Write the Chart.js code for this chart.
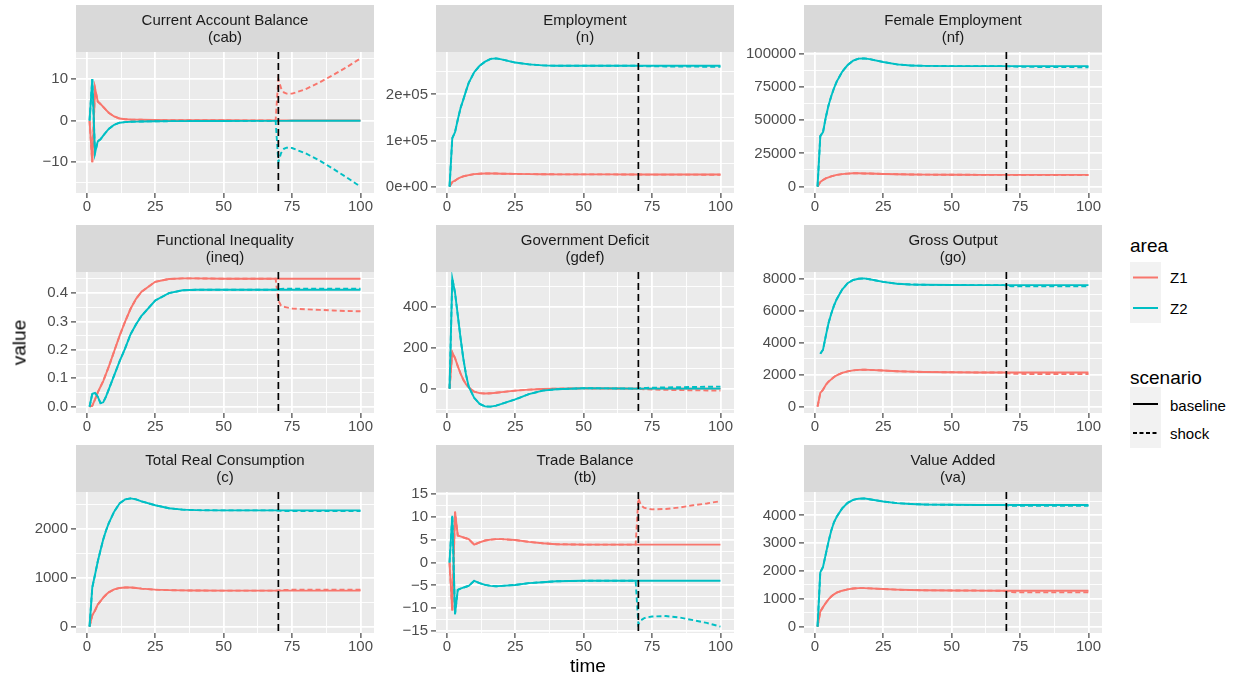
<!DOCTYPE html>
<html>
<head>
<meta charset="utf-8">
<script src="https://cdn.jsdelivr.net/npm/chart.js@4.4.1/dist/chart.umd.min.js"></script>
<style>
  body { margin: 0; background: #fff; width: 1237px; height: 679px; position: relative; overflow: hidden;
         font-family: "Liberation Sans", Arial, sans-serif; }
  canvas.panel { position: absolute; }
  .txt { position: absolute; white-space: nowrap; line-height: 1; }
  .axis-title { font-size: 19px; color: #000; }
  .leg-title { font-size: 19px; color: #000; }
  .leg-label { font-size: 15px; color: #000; }
  .key-bg { position: absolute; background: #F2F2F2; }
</style>
</head>
<body>
<div id="wrap"></div>
<div class="txt axis-title" style="left:-6px; top:333px; width:50px; text-align:center; transform:rotate(-90deg);">value</div>
<div class="txt axis-title" style="left:538px; top:656px; width:100px; text-align:center;">time</div>

<div class="txt leg-title" style="left:1130px; top:236px;">area</div>
<div class="key-bg" style="left:1130px; top:262px; width:31px; height:61px;"></div>
<div class="txt leg-label" style="left:1170px; top:270px;">Z1</div>
<div class="txt leg-label" style="left:1170px; top:301px;">Z2</div>

<div class="txt leg-title" style="left:1130px; top:368px;">scenario</div>
<div class="key-bg" style="left:1130px; top:387px; width:31px; height:61px;"></div>
<div class="txt leg-label" style="left:1170px; top:398px;">baseline</div>
<div class="txt leg-label" style="left:1170px; top:426px;">shock</div>

<svg style="position:absolute; left:0; top:0;" width="1237" height="679">
  <line x1="1133" y1="277.5" x2="1158" y2="277.5" stroke="#F8766D" stroke-width="2"/>
  <line x1="1133" y1="308" x2="1158" y2="308" stroke="#00BFC4" stroke-width="2"/>
  <line x1="1133" y1="404" x2="1158" y2="404" stroke="#000" stroke-width="2"/>
  <line x1="1133" y1="433" x2="1158" y2="433" stroke="#000" stroke-width="2" stroke-dasharray="4,2.5"/>
</svg>

<script>
// simulation periods (sampled) and the shock period
const time = [1, 2, 3, 4, 5, 6, 7, 8, 10, 12, 14, 16, 18, 20, 25, 30, 35, 40, 50, 60, 69,
              70, 71, 72, 73, 75, 80, 85, 90, 95, 100];
const shockTime = 70;
const shockFrom = 21; // index of period 70 in time

const xTicks = [0, 25, 50, 75, 100];
const xTickLabels = ['0', '25', '50', '75', '100'];

// current account balance
const cabZ1 = [0, -10, 7.8, 4.6, 4.0, 3.3, 2.6, 1.9, 1.0, 0.5, 0.35, 0.28, 0.24, 0.2, 0.16, 0.13, 0.11, 0.1, 0.08, 0.06, 0.05,
               0.05, 0.05, 0.05, 0.05, 0.04, 0.04, 0.03, 0.03, 0.03, 0.03];
const cabZ2 = [0, 10, -7.8, -5.0, -4.5, -3.6, -2.8, -2.0, -1.0, -0.5, -0.35, -0.28, -0.24, -0.2, -0.16, -0.13, -0.11, -0.1, -0.08, -0.06, -0.05,
               -0.05, -0.05, -0.05, -0.05, -0.04, -0.04, -0.03, -0.03, -0.03, -0.03];
const cabZ1Shock = [10, 7.8, 6.8, 6.5, 6.5, 7.6, 9.2, 11.0, 12.9, 15.0];
const cabZ2Shock = [-10, -7.8, -6.8, -6.5, -6.6, -7.9, -9.6, -11.6, -13.7, -15.9];
const cabTicks = [-10, 0, 10];
const cabTickLabels = ['\u221210', '0', '10'];

// employment
const nZ1 = [0, 10000, 13000, 17000, 20000, 22000, 23500, 25000, 27000, 28000, 28500, 28500, 28300, 28000, 27500, 27000, 26800, 26600, 26500, 26400, 26300,
             26300, 26300, 26300, 26300, 26300, 26300, 26300, 26300, 26300, 26300];
const nZ2 = [0, 105000, 118000, 145000, 170000, 188000, 207000, 225000, 248000, 262000, 271000, 277000, 278000, 276000, 269000, 265000, 263000, 262000, 262000, 262000, 262000,
             262000, 262000, 262000, 262000, 262000, 262000, 262000, 262000, 262000, 262000];
const nZ1Shock = [26200, 26100, 26000, 26000, 26000, 25900, 25900, 25900, 25800, 25800];
const nZ2Shock = [261700, 261400, 261200, 261000, 260800, 260600, 260400, 260200, 260000, 259800];
const nTicks = [0, 100000, 200000];
const nTickLabels = ['0e+00', '1e+05', '2e+05'];

// female employment
const nfZ1 = [0, 3500, 5000, 6200, 7000, 7700, 8300, 8800, 9400, 9800, 10000, 10000, 9900, 9800, 9500, 9300, 9100, 9000, 8900, 8850, 8800,
              8800, 8800, 8800, 8800, 8800, 8800, 8800, 8800, 8800, 8800];
const nfZ2 = [0, 38000, 41000, 52000, 61000, 68000, 74000, 79000, 86500, 91500, 94800, 96300, 96500, 96000, 93800, 92000, 91200, 90900, 90700, 90700, 90700,
              90700, 90700, 90700, 90700, 90700, 90700, 90700, 90700, 90700, 90700];
const nfZ1Shock = [8750, 8700, 8700, 8700, 8650, 8650, 8650, 8650, 8650, 8650];
const nfZ2Shock = [90600, 90500, 90400, 90300, 90200, 90100, 90000, 90000, 89900, 89900];
const nfTicks = [0, 25000, 50000, 75000, 100000];
const nfTickLabels = ['0', '25000', '50000', '75000', '100000'];

// functional inequality
const ineqZ1 = [0, 0.003, 0.025, 0.05, 0.07, 0.09, 0.115, 0.14, 0.195, 0.25, 0.3, 0.345, 0.38, 0.405, 0.44, 0.45, 0.452, 0.452, 0.451, 0.451, 0.451,
                0.451, 0.451, 0.451, 0.451, 0.451, 0.451, 0.451, 0.451, 0.451, 0.451];
const ineqZ2 = [0, 0.045, 0.048, 0.035, 0.012, 0.015, 0.035, 0.06, 0.11, 0.16, 0.205, 0.255, 0.29, 0.32, 0.374, 0.4, 0.41, 0.412, 0.412, 0.412, 0.412,
                0.412, 0.412, 0.412, 0.412, 0.412, 0.412, 0.412, 0.412, 0.412, 0.412];
const ineqZ1Shock = [0.374, 0.356, 0.352, 0.35, 0.346, 0.343, 0.341, 0.339, 0.337, 0.336];
const ineqZ2Shock = [0.413, 0.415, 0.416, 0.416, 0.416, 0.416, 0.416, 0.416, 0.416, 0.416];
const ineqTicks = [0, 0.1, 0.2, 0.3, 0.4];
const ineqTickLabels = ['0.0', '0.1', '0.2', '0.3', '0.4'];

// government deficit
const gdefZ1 = [0, 178, 150, 110, 75, 45, 22, 7, -15, -22, -24, -23, -20, -17, -10, -5, -2, 0, 1, 0.5, 0,
                0, 0, 0, 0, 0, 0, 0, 0, 0, 0];
const gdefZ2 = [0, 540, 470, 360, 250, 150, 70, 10, -45, -75, -87, -88, -83, -75, -53, -27, -10, -3, 2, 1, 0,
                0, 0, 0, 0, 0, 0, 0, 0, 0, 0];
const gdefZ1Shock = [-1, -2, -3, -3.5, -4.5, -6, -7, -8, -9, -10];
const gdefZ2Shock = [1, 2, 3, 3.5, 4.5, 6, 7, 8, 9, 10];
const gdefTicks = [0, 200, 400];
const gdefTickLabels = ['0', '200', '400'];

// gross output (Z2 has no value in the first period)
const goZ1 = [0, 850, 1050, 1350, 1550, 1700, 1850, 1950, 2100, 2200, 2260, 2290, 2300, 2290, 2250, 2210, 2180, 2160, 2140, 2130, 2130,
              2130, 2130, 2130, 2130, 2130, 2130, 2130, 2130, 2130, 2130];
const goZ2 = [null, 3300, 3550, 4400, 5200, 5800, 6300, 6700, 7300, 7700, 7900, 7980, 8000, 7950, 7780, 7670, 7620, 7600, 7590, 7580, 7580,
              7580, 7580, 7580, 7580, 7580, 7580, 7580, 7580, 7580, 7580];
const goZ1Shock = [2100, 2070, 2060, 2050, 2040, 2030, 2030, 2030, 2030, 2030];
const goZ2Shock = [7550, 7520, 7510, 7500, 7500, 7500, 7500, 7500, 7500, 7500];
const goTicks = [0, 2000, 4000, 6000, 8000];
const goTickLabels = ['0', '2000', '4000', '6000', '8000'];

// total real consumption
const cZ1 = [0, 230, 330, 450, 520, 590, 650, 700, 760, 790, 800, 800, 790, 775, 755, 745, 740, 737, 735, 735, 735,
             735, 735, 735, 735, 735, 735, 735, 735, 735, 735];
const cZ2 = [0, 800, 1060, 1330, 1560, 1780, 1960, 2110, 2350, 2520, 2600, 2620, 2600, 2560, 2480, 2420, 2390, 2380, 2375, 2375, 2375,
             2375, 2375, 2375, 2375, 2375, 2375, 2375, 2375, 2375, 2375];
const cZ1Shock = [740, 745, 748, 750, 752, 752, 752, 752, 752, 752];
const cZ2Shock = [2370, 2365, 2360, 2360, 2360, 2360, 2360, 2360, 2360, 2360];
const cTicks = [0, 1000, 2000];
const cTickLabels = ['0', '1000', '2000'];

// trade balance
const tbZ1 = [0, -10.5, 11.1, 5.9, 5.7, 5.5, 5.3, 5.1, 3.9, 4.4, 4.8, 5.0, 5.1, 5.1, 4.9, 4.5, 4.2, 4.0, 3.9, 3.9, 3.9,
              3.9, 3.9, 3.9, 3.9, 3.9, 3.9, 3.9, 3.9, 3.9, 3.9];
const tbZ2 = [0, 10.2, -11.3, -6.0, -5.7, -5.5, -5.3, -5.1, -4.0, -4.5, -4.9, -5.1, -5.2, -5.1, -4.9, -4.5, -4.3, -4.1, -4.0, -4.0, -4.0,
              -4.0, -4.0, -4.0, -4.0, -4.0, -4.0, -4.0, -4.0, -4.0, -4.0];
const tbZ1Shock = [14.0, 12.5, 12.0, 11.8, 11.6, 11.7, 12.0, 12.5, 12.9, 13.4];
const tbZ2Shock = [-13.5, -12.6, -12.2, -12.0, -11.8, -11.7, -12.0, -12.6, -13.2, -14.0];
const tbTicks = [-15, -10, -5, 0, 5, 10, 15];
const tbTickLabels = ['\u221215', '\u221210', '\u22125', '0', '5', '10', '15'];

// value added
const vaZ1 = [0, 540, 700, 850, 980, 1080, 1160, 1220, 1290, 1340, 1370, 1385, 1385, 1375, 1350, 1330, 1315, 1305, 1300, 1295, 1290,
              1290, 1290, 1290, 1290, 1290, 1290, 1290, 1290, 1290, 1290];
const vaZ2 = [0, 1950, 2150, 2600, 3050, 3450, 3750, 3950, 4250, 4450, 4560, 4600, 4610, 4580, 4500, 4440, 4410, 4390, 4380, 4375, 4375,
              4375, 4375, 4375, 4375, 4375, 4375, 4375, 4375, 4375, 4375];
const vaZ1Shock = [1270, 1250, 1240, 1235, 1230, 1230, 1230, 1230, 1230, 1230];
const vaZ2Shock = [4360, 4350, 4345, 4340, 4340, 4340, 4340, 4340, 4340, 4340];
const vaTicks = [0, 1000, 2000, 3000, 4000];
const vaTickLabels = ['0', '1000', '2000', '3000', '4000'];

const panels = [
  { title: 'Current Account Balance', code: '(cab)', z1: cabZ1, z2: cabZ2, z1s: cabZ1Shock, z2s: cabZ2Shock, ticks: cabTicks, labels: cabTickLabels },
  { title: 'Employment', code: '(n)', z1: nZ1, z2: nZ2, z1s: nZ1Shock, z2s: nZ2Shock, ticks: nTicks, labels: nTickLabels },
  { title: 'Female Employment', code: '(nf)', z1: nfZ1, z2: nfZ2, z1s: nfZ1Shock, z2s: nfZ2Shock, ticks: nfTicks, labels: nfTickLabels },
  { title: 'Functional Inequality', code: '(ineq)', z1: ineqZ1, z2: ineqZ2, z1s: ineqZ1Shock, z2s: ineqZ2Shock, ticks: ineqTicks, labels: ineqTickLabels },
  { title: 'Government Deficit', code: '(gdef)', z1: gdefZ1, z2: gdefZ2, z1s: gdefZ1Shock, z2s: gdefZ2Shock, ticks: gdefTicks, labels: gdefTickLabels },
  { title: 'Gross Output', code: '(go)', z1: goZ1, z2: goZ2, z1s: goZ1Shock, z2s: goZ2Shock, ticks: goTicks, labels: goTickLabels },
  { title: 'Total Real Consumption', code: '(c)', z1: cZ1, z2: cZ2, z1s: cZ1Shock, z2s: cZ2Shock, ticks: cTicks, labels: cTickLabels },
  { title: 'Trade Balance', code: '(tb)', z1: tbZ1, z2: tbZ2, z1s: tbZ1Shock, z2s: tbZ2Shock, ticks: tbTicks, labels: tbTickLabels },
  { title: 'Value Added', code: '(va)', z1: vaZ1, z2: vaZ2, z1s: vaZ1Shock, z2s: vaZ2Shock, ticks: vaTicks, labels: vaTickLabels }
];

const RED = '#F8766D';
const TEAL = '#00BFC4';
const FONT = '"Liberation Sans", Arial, sans-serif';

// facet geometry
const colLeft = [76, 436, 804];
const rowTop = [5, 225, 445];
const PANEL_W = 298, PLOT_H = 141, STRIP_H = 47;
const AXIS_W = 72, AXIS_H = 26, RIGHT_PAD = 6;

Chart.defaults.font.family = FONT;

function withShock(base, tail) {
  return base.slice(0, shockFrom).concat(tail);
}

function points(values) {
  return time.map((t, i) => ({ x: t, y: values[i] }));
}

// major ticks plus the half-way minor ones that fall inside the range
function allTicks(majors, lo, hi) {
  const step = majors[1] - majors[0];
  const out = [];
  majors.forEach((m, i) => {
    if (i === 0) out.push(m - step / 2);
    out.push(m);
    out.push(m + step / 2);
  });
  return out.filter(v => v >= lo && v <= hi);
}

function isMajor(majors, v) {
  return majors.some(m => Math.abs(m - v) < 1e-9);
}

// grey strip with the two-line title, grey panel, dashed marker at the shock
const facetPlugin = {
  id: 'facet',
  beforeDraw(chart, args, opts) {
    const { ctx, chartArea: a } = chart;
    ctx.save();
    ctx.fillStyle = '#EBEBEB';
    ctx.fillRect(a.left, a.top, a.right - a.left, a.bottom - a.top);
    ctx.fillStyle = '#D9D9D9';
    ctx.fillRect(a.left, a.top - STRIP_H, a.right - a.left, STRIP_H);
    ctx.fillStyle = '#1A1A1A';
    ctx.font = '15px ' + FONT;
    ctx.textAlign = 'center';
    ctx.textBaseline = 'middle';
    const cx = (a.left + a.right) / 2;
    ctx.fillText(opts.title, cx, a.top - STRIP_H + 15.5);
    ctx.fillText(opts.code, cx, a.top - STRIP_H + 33);
    ctx.restore();
  },
  afterDatasetsDraw(chart) {
    const { ctx, chartArea: a } = chart;
    const x = chart.scales.x.getPixelForValue(shockTime);
    ctx.save();
    ctx.strokeStyle = '#000';
    ctx.lineWidth = 1.7;
    ctx.setLineDash([7, 4]);
    ctx.beginPath();
    ctx.moveTo(x, a.top);
    ctx.lineTo(x, a.bottom);
    ctx.stroke();
    ctx.restore();
  }
};

function series(values, color, dashed, order) {
  return {
    data: points(values),
    borderColor: color,
    borderWidth: 1.9,
    borderDash: dashed ? [5, 3] : [],
    pointRadius: 0,
    tension: 0,
    spanGaps: false,
    order: order
  };
}

function gridOpts(majors) {
  return {
    color: '#FFFFFF',
    lineWidth: c => isMajor(majors, c.tick.value) ? 1.8 : 0.9,
    drawTicks: true,
    tickLength: 5,
    tickWidth: 1.1,
    tickColor: c => isMajor(majors, c.tick.value) ? '#333333' : 'rgba(0,0,0,0)'
  };
}

const wrap = document.getElementById('wrap');

panels.forEach((p, i) => {
  const row = Math.floor(i / 3), col = i % 3;
  const canvas = document.createElement('canvas');
  canvas.className = 'panel';
  canvas.width = AXIS_W + PANEL_W + RIGHT_PAD;
  canvas.height = STRIP_H + PLOT_H + AXIS_H;
  canvas.style.left = (colLeft[col] - AXIS_W) + 'px';
  canvas.style.top = rowTop[row] + 'px';
  wrap.appendChild(canvas);

  const z1s = withShock(p.z1, p.z1s);
  const z2s = withShock(p.z2, p.z2s);
  const vals = [].concat(p.z1, p.z2, z1s, z2s).filter(v => v !== null);
  const lo = Math.min(...vals), hi = Math.max(...vals);
  const pad = (hi - lo) * 0.05;
  const yMin = lo - pad, yMax = hi + pad;
  const xMin = 1 - 99 * 0.05, xMax = 100 + 99 * 0.05;

  const yAll = allTicks(p.ticks, yMin, yMax);
  const xAll = allTicks(xTicks, xMin, xMax);

  new Chart(canvas, {
    type: 'line',
    data: {
      datasets: [
        series(p.z1, RED, false, 4),
        series(z1s, RED, true, 3),
        series(p.z2, TEAL, false, 2),
        series(z2s, TEAL, true, 1)
      ]
    },
    options: {
      responsive: false,
      animation: false,
      devicePixelRatio: 1,
      events: [],
      layout: { padding: { top: STRIP_H, right: RIGHT_PAD, left: 0, bottom: 0 } },
      plugins: {
        legend: { display: false },
        tooltip: { enabled: false },
        facet: { title: p.title, code: p.code }
      },
      scales: {
        x: {
          type: 'linear',
          min: xMin,
          max: xMax,
          afterBuildTicks: s => { s.ticks = xAll.map(v => ({ value: v })); },
          afterFit: s => { s.height = AXIS_H; s.paddingLeft = 0; s.paddingRight = 0; },
          border: { display: false },
          grid: gridOpts(xTicks),
          ticks: {
            autoSkip: false,
            maxRotation: 0,
            padding: 0,
            color: '#4D4D4D',
            font: { size: 15 },
            callback: v => {
              const k = xTicks.findIndex(m => Math.abs(m - v) < 1e-9);
              return k >= 0 ? xTickLabels[k] : '';
            }
          }
        },
        y: {
          type: 'linear',
          min: yMin,
          max: yMax,
          afterBuildTicks: s => { s.ticks = yAll.map(v => ({ value: v })); },
          afterFit: s => { s.width = AXIS_W; s.paddingTop = 0; s.paddingBottom = 0; },
          border: { display: false },
          grid: gridOpts(p.ticks),
          ticks: {
            autoSkip: false,
            padding: 3,
            color: '#4D4D4D',
            font: { size: 15 },
            callback: v => {
              const k = p.ticks.findIndex(m => Math.abs(m - v) < 1e-9);
              return k >= 0 ? p.labels[k] : '';
            }
          }
        }
      }
    },
    plugins: [facetPlugin]
  });
});
</script>
</body>
</html>
